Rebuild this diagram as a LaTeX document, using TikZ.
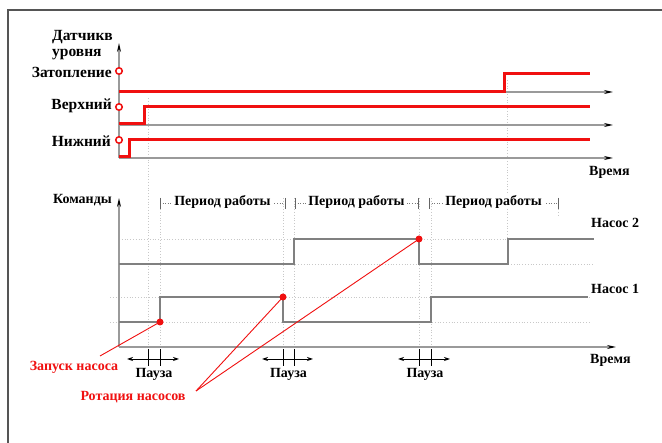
\documentclass[tikz,border=0pt]{standalone}
\usepackage{fontspec}
\setmainfont{Liberation Serif}
\usetikzlibrary{arrows.meta}
\definecolor{axisgray}{HTML}{9A9A9A}
\definecolor{siggray}{HTML}{808080}
\definecolor{gridgray}{HTML}{C8C8C8}
\definecolor{framegray}{HTML}{555555}
\definecolor{sigred}{HTML}{F01010}
\begin{document}
\begin{tikzpicture}[x=1pt,y=-1pt,
  lbl/.style={font=\fontsize{14}{16}\selectfont\bfseries, inner sep=0pt},
  biglbl/.style={font=\fontsize{15.5}{17}\selectfont\bfseries, inner sep=0pt},
  redlbl/.style={lbl, text=sigred},
  axisline/.style={draw=axisgray, line width=1.3pt, -{Stealth[length=9pt,width=4pt,black]}},
  redsig/.style={draw=sigred, line width=3pt},
  graysig/.style={draw=siggray, line width=1.3pt},
  gridline/.style={draw=gridgray, line width=0.8pt, dotted},
  sensor/.style={circle, draw=sigred, line width=1.5pt, fill=white, minimum size=6.5pt, inner sep=0pt},
  reddot/.style={circle, fill=sigred, minimum size=7pt, inner sep=0pt},
  annot/.style={draw=sigred, line width=0.9pt},
  tickline/.style={draw=black, line width=0.9pt},
  pausearrow/.style={draw=black, line width=0.9pt, -{Stealth[length=6pt,width=4pt]}},
  period/.style={lbl, fill=white, inner xsep=2pt}
]
\useasboundingbox (0,0) rectangle (662,443);
\fill[white] (0,0) rectangle (662,443);
% frame
\draw[framegray, line width=1.5pt] (8,443) -- (8,10) -- (662,10);

% ---------- grid (dotted) ----------
\draw[gridline] (148,98) -- (148,350);
\draw[gridline] (507,80) -- (507,240);
\foreach \x in {160,283,294,419,431} \draw[gridline] (\x,198) -- (\x,350);
\draw[gridline] (558,198) -- (558,215);
\foreach \y in {239,264} \draw[gridline] (119,\y) -- (594,\y);
\foreach \y in {297,322} \draw[gridline] (110,\y) -- (590,\y);

% ---------- sensors section ----------
\coordinate (sO) at (119,158);
\draw[axisline] (sO) -- (119,43);
\draw[axisline] (119,92) -- (613,92);
\draw[axisline] (119,125) -- (613,125);
\draw[axisline] (sO) -- (613,158);

\draw[redsig] (119,92) -- (504,92) -- (504,74) -- (590,74);
\draw[redsig] (119,124) -- (144,124) -- (144,107) -- (590,107);
\draw[redsig] (119,157) -- (129,157) -- (129,140) -- (590,140);

\node[sensor] (c1) at (119,71) {};
\node[sensor] (c2) at (119,107) {};
\node[sensor] (c3) at (119,140) {};

\node[biglbl, anchor=west] (t1) at (52,37) {Датчикв};
\node[biglbl, anchor=west] (t2) at (52,55) {уровня};
\node[biglbl, anchor=east] (t3) at (112,72) {Затопление};
\node[biglbl, anchor=east] (t4) at (112,106) {Верхний};
\node[biglbl, anchor=east] (t5) at (111,141) {Нижний};
\node[lbl, anchor=west] (t6) at (589,172) {Время};

% ---------- commands section ----------
\coordinate (cO) at (119,347);
\draw[axisline] (cO) -- (119,198);
\draw[axisline] (cO) -- (616,347);

\draw[graysig] (119,322) -- (160,322) -- (160,297) -- (283,297) -- (283,322) -- (431,322) -- (431,297) -- (588,297);
\draw[graysig] (119,264) -- (294,264) -- (294,239) -- (419,239) -- (419,264) -- (508,264) -- (508,239) -- (594,239);

\node[lbl, anchor=east] (k) at (112,200) {Команды};
\node[lbl, anchor=west] (n2) at (591,223) {Насос 2};
\node[lbl, anchor=west] (n1) at (591,289) {Насос 1};
\node[lbl, anchor=west] (tm) at (590,360) {Время};

% period brackets
\foreach \a/\b/\n in {160/285/p1, 295/418/p2, 429/558/p3}{
  \draw[gridgray!60!black, line width=0.6pt, dotted] (\a,203) -- (\b,203);
  \draw[gridgray!50!black, line width=0.6pt] (\a,198) -- (\a,209);
  \draw[gridgray!50!black, line width=0.6pt] (\b,198) -- (\b,209);
  \node[period] (\n) at ({(\a+\b)/2},202) {Период работы};
}

% pauses
\foreach \a/\b/\n in {148/160/q1, 283/294/q2, 419/431/q3}{
  \draw[tickline] (\a,349) -- (\a,366);
  \draw[tickline] (\b,349) -- (\b,366);
  \draw[tickline] (\a,359) -- (\b,359);
  \draw[pausearrow] (\a,359) -- ++(-21,0);
  \draw[pausearrow] (\b,359) -- ++(19,0);
  \node[lbl] (\n) at ({(\a+\b)/2},374) {Пауза};
}

% red annotation
\node[reddot] (d1) at (160,322) {};
\node[reddot] (d2) at (283,297) {};
\node[reddot] (d3) at (419,239) {};
\node[redlbl] (zap) at (74,367) {Запуск насоса};
\node[redlbl] (rot) at (133,397) {Ротация насосов};
\coordinate (za) at (100,356);
\coordinate (ra) at (196,391);
\draw[annot] (za) -- (d1.center);
\draw[annot] (ra) -- (d2.center);
\draw[annot] (ra) -- (d3.center);
\end{tikzpicture}
\end{document}
